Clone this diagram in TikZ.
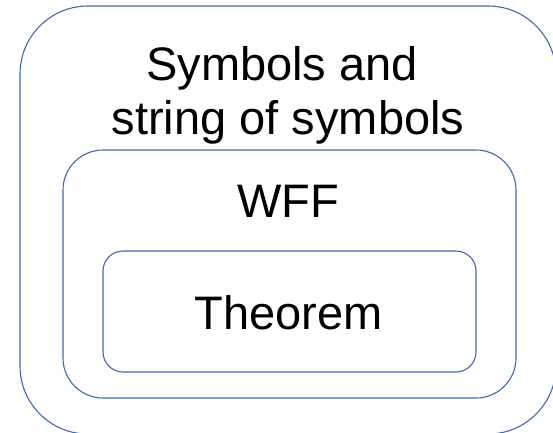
\documentclass[tikz,border=0pt]{standalone}
\usepackage{fontspec}
\setmainfont{Liberation Sans}
\definecolor{boxblue}{RGB}{60,105,175}
\begin{document}
\begin{tikzpicture}[x=1pt,y=-1pt,
  box/.style={draw=boxblue, line width=1.1pt, inner sep=0pt, outer sep=0pt},
  lbl/.style={anchor=base, inner sep=0pt, font=\fontsize{47}{54}\selectfont}]
\useasboundingbox (0,0) rectangle (553,432);
\clip (0,0) rectangle (553,432);
\node[box, rounded corners=68pt, minimum width=536pt, minimum height=428pt] (outer) at (288,220) {};
\node[box, rounded corners=40pt, minimum width=453pt, minimum height=248pt] (middle) at (289.5,274) {};
\node[box, rounded corners=20pt, minimum width=373pt, minimum height=121pt] (inner) at (289.5,311.5) {};
\node[lbl] (t1) at (282,80) {Symbols and};
\node[lbl] (t2) at (288,134) {string of symbols};
\node[lbl] (wff) at (288,217) {WFF};
\node[lbl] (thm) at (288.5,329) {Theorem};
\end{tikzpicture}
\end{document}
